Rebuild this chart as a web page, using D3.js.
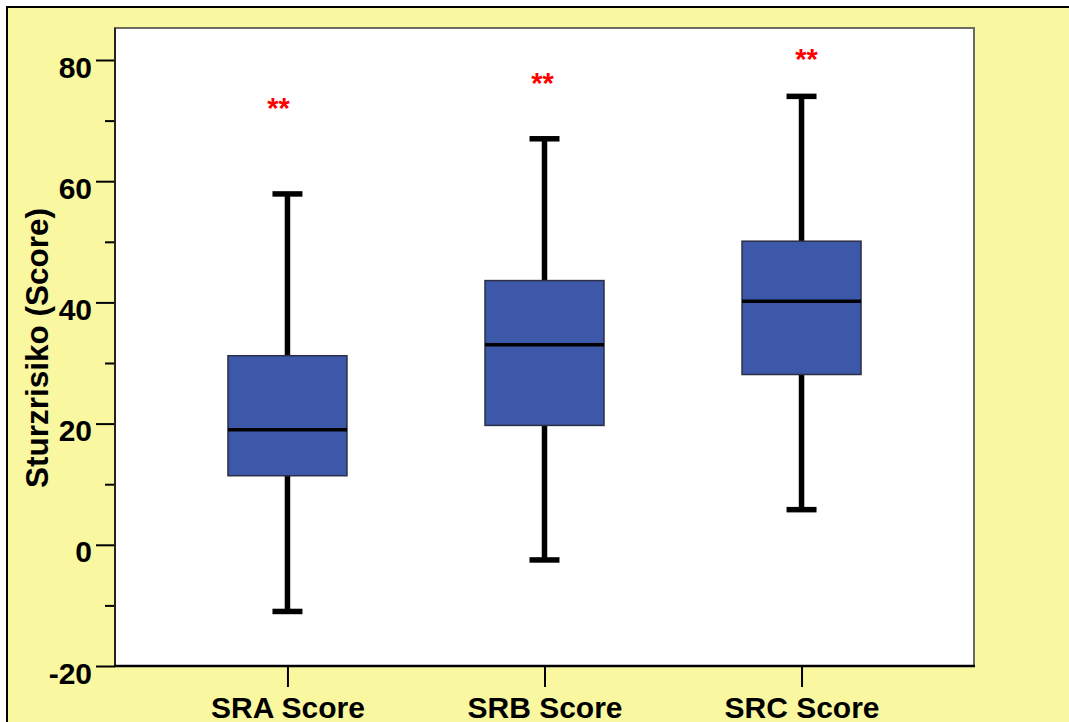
<!DOCTYPE html>
<html>
<head>
<meta charset="utf-8">
<script src="https://cdn.jsdelivr.net/npm/d3@7"></script>
<style>
  html, body { margin: 0; padding: 0; background: #ffffff; }
  svg { display: block; font-family: "Liberation Sans", Arial, sans-serif; }
</style>
</head>
<body>
<svg id="chart" width="1069" height="722"></svg>
<script>
// Box plot of fall-risk scores per assessment
const categories = ["SRA Score", "SRB Score", "SRC Score"];
const whiskerLow  = [-11.0, -2.5, 5.8];
const q1          = [11.4, 19.7, 28.1];
const median      = [19.0, 33.0, 40.2];
const q3          = [31.2, 43.6, 50.1];
const whiskerHigh = [57.9, 67.0, 74.0];
// significance markers ("**") above each box, in score units
const markerText  = ["**", "**", "**"];
const markerValue = [70.4, 74.5, 78.5];
const markerShift = [-9, -2, 5];

const yTicks = [-20, 0, 20, 40, 60, 80];
const yMinorTicks = [-10, 10, 30, 50, 70];
const yTitle = "Sturzrisiko (Score)";

const rows = categories.map((c, i) => ({
  cat: c, lo: whiskerLow[i], q1: q1[i], med: median[i], q3: q3[i], hi: whiskerHigh[i],
  mark: markerText[i], markVal: markerValue[i], shift: markerShift[i]
}));

const svg = d3.select("#chart");
const W = 1069, H = 722;
const plot = { left: 115, top: 28, right: 974, bottom: 666 };

// page background with framed yellow panel
svg.append("rect").attr("x", 0).attr("y", 0).attr("width", W).attr("height", H).attr("fill", "#ffffff");
svg.append("rect").attr("x", 7).attr("y", 7).attr("width", W + 20).attr("height", H + 20)
  .attr("fill", "#f9f79f").attr("stroke", "#000").attr("stroke-width", 2);

const y = d3.scaleLinear().domain([-20, 80]).range([plot.bottom, 60]);
const x = d3.scalePoint().domain(categories).range([plot.left, plot.right]).padding(0.671);

// plot area
svg.append("rect")
  .attr("x", plot.left).attr("y", plot.top)
  .attr("width", plot.right - plot.left).attr("height", plot.bottom - plot.top)
  .attr("fill", "#ffffff").attr("stroke", "#6b6b62").attr("stroke-width", 2);

// y axis
const yAxis = svg.append("g").attr("transform", `translate(${plot.left},0)`)
  .call(d3.axisLeft(y).tickValues(yTicks).tickSize(19).tickPadding(4).tickFormat(d => String(d)));
yAxis.select(".domain").remove();
yAxis.selectAll(".tick line").attr("stroke", "#000").attr("stroke-width", 2);
yAxis.selectAll(".tick text")
  .attr("font-size", 30).attr("font-weight", "bold").attr("fill", "#000")
  .attr("dy", null).attr("y", 17).attr("x", -23);

const yMinor = svg.append("g").attr("transform", `translate(${plot.left},0)`)
  .call(d3.axisLeft(y).tickValues(yMinorTicks).tickSize(10).tickFormat(""));
yMinor.select(".domain").remove();
yMinor.selectAll(".tick line").attr("stroke", "#000").attr("stroke-width", 2);

svg.append("line").attr("x1", plot.left).attr("x2", plot.left)
  .attr("y1", plot.top).attr("y2", plot.bottom).attr("stroke", "#222").attr("stroke-width", 2);

// x axis
const xAxis = svg.append("g").attr("transform", `translate(0,${plot.bottom})`)
  .call(d3.axisBottom(x).tickSize(21).tickPadding(0));
xAxis.select(".domain").remove();
xAxis.selectAll(".tick line").attr("stroke", "#000").attr("stroke-width", 2);
xAxis.selectAll(".tick text")
  .attr("font-size", 30).attr("font-weight", "bold").attr("fill", "#000")
  .attr("dy", null).attr("y", 52);

svg.append("line").attr("x1", plot.left - 1).attr("x2", plot.right + 1)
  .attr("y1", plot.bottom).attr("y2", plot.bottom).attr("stroke", "#000").attr("stroke-width", 2.5);

// y title
svg.append("text")
  .attr("transform", `translate(48,${(plot.top + plot.bottom) / 2 + 1}) rotate(-90)`)
  .attr("text-anchor", "middle").attr("font-size", 31.5).attr("font-weight", "bold").attr("fill", "#000")
  .text(yTitle);

// boxes
const boxW = 119, capW = 30;
const g = svg.append("g").selectAll("g").data(rows).join("g")
  .attr("transform", d => `translate(${x(d.cat)},0)`);

g.append("line").attr("x1", 0).attr("x2", 0)
  .attr("y1", d => y(d.hi)).attr("y2", d => y(d.q3))
  .attr("stroke", "#000").attr("stroke-width", 5.5);
g.append("line").attr("x1", 0).attr("x2", 0)
  .attr("y1", d => y(d.q1)).attr("y2", d => y(d.lo))
  .attr("stroke", "#000").attr("stroke-width", 5.5);
g.append("line").attr("x1", -capW / 2).attr("x2", capW / 2)
  .attr("y1", d => y(d.hi)).attr("y2", d => y(d.hi))
  .attr("stroke", "#000").attr("stroke-width", 5.5);
g.append("line").attr("x1", -capW / 2).attr("x2", capW / 2)
  .attr("y1", d => y(d.lo)).attr("y2", d => y(d.lo))
  .attr("stroke", "#000").attr("stroke-width", 5.5);

g.append("rect")
  .attr("x", -boxW / 2).attr("width", boxW)
  .attr("y", d => y(d.q3)).attr("height", d => y(d.q1) - y(d.q3))
  .attr("fill", "#3e58a9").attr("stroke", "#2a2f45").attr("stroke-width", 1.5);

g.append("line").attr("x1", -boxW / 2).attr("x2", boxW / 2)
  .attr("y1", d => y(d.med)).attr("y2", d => y(d.med))
  .attr("stroke", "#000").attr("stroke-width", 3.5);

g.append("text")
  .attr("x", d => d.shift).attr("y", d => y(d.markVal))
  .attr("text-anchor", "middle").attr("font-size", 29).attr("font-weight", "bold").attr("fill", "#ff0000")
  .text(d => d.mark);
</script>
</body>
</html>
